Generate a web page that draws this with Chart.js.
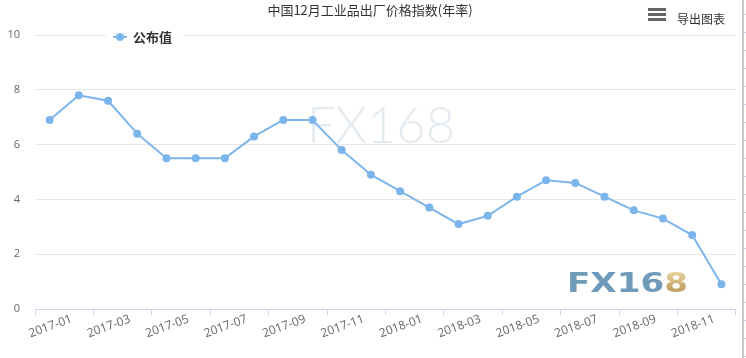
<!DOCTYPE html>
<html>
<head>
<meta charset="utf-8">
<script src="https://cdn.jsdelivr.net/npm/chart.js@4/dist/chart.umd.min.js"></script>
<style>
html,body{margin:0;padding:0;background:#fff;}
#wrap{width:746px;height:358px;position:relative;}
</style>
</head>
<body>
<div id="wrap"><canvas id="c" width="746" height="358"></canvas></div>
<script>
const titleText = '中国12月工业品出厂价格指数(年率)';
const seriesName = '公布值';
const exportText = '导出图表';
const categories = ['2017-01','2017-02','2017-03','2017-04','2017-05','2017-06','2017-07','2017-08','2017-09','2017-10','2017-11','2017-12',
                    '2018-01','2018-02','2018-03','2018-04','2018-05','2018-06','2018-07','2018-08','2018-09','2018-10','2018-11','2018-12'];
const values = [6.9,7.8,7.6,6.4,5.5,5.5,5.5,6.3,6.9,6.9,5.8,4.9,
                4.3,3.7,3.1,3.4,4.1,4.7,4.6,4.1,3.6,3.3,2.7,0.9];
const yTicks = [0,2,4,6,8,10];

const FONT = '"Noto Sans CJK SC", "Open Sans", sans-serif';
const LINE_COLOR = '#7cb5ec';

function fitText(ctx, text, x, y, width, font, color) {
  ctx.save();
  ctx.font = font;
  const w = ctx.measureText(text).width;
  const s = width / w;
  ctx.translate(x, y);
  ctx.scale(s, 1);
  ctx.fillStyle = color;
  ctx.textAlign = 'left';
  ctx.textBaseline = 'alphabetic';
  ctx.fillText(text, 0, 0);
  ctx.restore();
}

const decor = {
  id: 'decor',
  beforeDatasetsDraw(chart) {
    const ctx = chart.ctx;
    fitText(ctx, 'FX168', 307, 143, 148, '300 52px Lato', 'rgba(205,218,228,0.55)');
    ctx.save();
    ctx.font = 'bold 27px "DejaVu Sans"';
    const wAll = ctx.measureText('FX168').width;
    const wPre = ctx.measureText('FX16').width;
    const s = 121 / wAll;
    ctx.translate(567, 292);
    ctx.scale(s, 1);
    ctx.textBaseline = 'alphabetic';
    ctx.fillStyle = '#6f9aba';
    ctx.fillText('FX16', 0, 0);
    const g = ctx.createLinearGradient(0, -20, 0, 0);
    g.addColorStop(0, '#e8d39c');
    g.addColorStop(1, '#bb9a5e');
    ctx.fillStyle = g;
    ctx.fillText('8', wPre, 0);
    ctx.restore();
  },
  afterDraw(chart) {
    const ctx = chart.ctx;
    ctx.save();
    ctx.font = '13px ' + FONT;
    ctx.fillStyle = '#333';
    ctx.textAlign = 'center';
    ctx.textBaseline = 'middle';
    ctx.fillText(titleText, 370, 10);
    ctx.fillStyle = '#fff';
    ctx.fillRect(106, 28, 77, 18);
    const ds = chart.data.datasets[0];
    ctx.strokeStyle = ds.borderColor;
    ctx.lineWidth = 2;
    ctx.beginPath(); ctx.moveTo(113, 37); ctx.lineTo(127, 37); ctx.stroke();
    ctx.fillStyle = ds.backgroundColor;
    ctx.beginPath(); ctx.arc(120, 37, 4, 0, Math.PI * 2); ctx.fill();
    ctx.font = 'bold 13px ' + FONT;
    ctx.fillStyle = '#333';
    ctx.textAlign = 'left';
    ctx.fillText(ds.label, 133, 37);
    ctx.fillStyle = '#666';
    [9, 14, 19].forEach(y => ctx.fillRect(648, y - 1, 18, 3));
    ctx.font = '12px ' + FONT;
    ctx.fillStyle = '#333';
    ctx.fillText(exportText, 677, 19);
    ctx.fillStyle = '#c8c8c8';
    ctx.fillRect(742, 0, 2, 358);
    ctx.fillStyle = '#c9d3e0';
    for (let y = 14; y < 358; y += 18) ctx.fillRect(744, y, 2, 1);
    ctx.restore();
  }
};

new Chart(document.getElementById('c'), {
  type: 'line',
  data: {
    labels: categories,
    datasets: [{
      label: seriesName,
      data: values,
      borderColor: LINE_COLOR,
      backgroundColor: LINE_COLOR,
      borderWidth: 2,
      pointRadius: 4,
      pointHoverRadius: 4,
      pointBorderWidth: 0,
      tension: 0,
      fill: false
    }]
  },
  options: {
    responsive: false,
    animation: false,
    events: [],
    layout: { padding: { top: 35, right: 10, bottom: 0, left: 0 } },
    plugins: { legend: { display: false }, title: { display: false }, tooltip: { enabled: false } },
    scales: {
      x: {
        type: 'category',
        offset: true,
        afterFit(scale) { scale.height = 49; },
        border: { display: true, color: '#ccd6eb', width: 1 },
        grid: {
          offset: true,
          drawOnChartArea: false,
          drawTicks: true,
          tickLength: 6,
          color: (c) => (c.index === undefined || c.index % 2 === 0) ? '#ccd6eb' : 'rgba(0,0,0,0)'
        },
        ticks: {
          autoSkip: false,
          maxRotation: 20,
          minRotation: 20,
          labelOffset: 22,
          padding: -3,
          color: '#666',
          font: { size: 12, family: '"Open Sans", sans-serif' },
          callback: function(v, i) { return i % 2 === 0 ? this.getLabelForValue(v) : ''; }
        }
      },
      y: {
        min: 0,
        max: 10,
        afterFit(scale) { scale.width = 35; },
        afterBuildTicks(scale) { scale.ticks = yTicks.map(v => ({ value: v })); },
        border: { display: false },
        grid: { color: '#e6e6e6', drawTicks: false, lineWidth: 1 },
        ticks: {
          padding: 15,
          color: '#666',
          font: { size: 11, family: '"Open Sans", sans-serif' }
        }
      }
    }
  },
  plugins: [decor]
});
</script>
</body>
</html>
